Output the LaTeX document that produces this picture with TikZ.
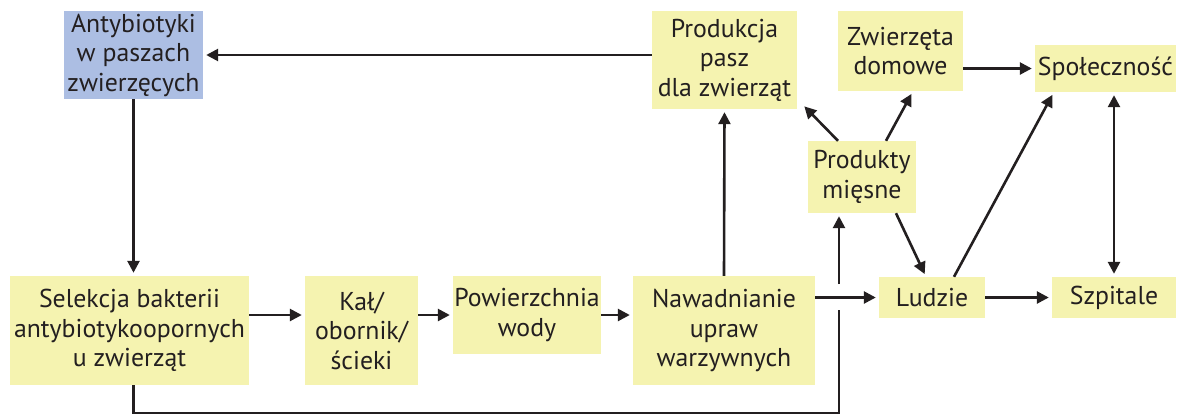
\documentclass[tikz,border=0pt]{standalone}
\usepackage{fontspec}
\setmainfont{PT Sans}
\usetikzlibrary{arrows.meta}
\definecolor{boxyellow}{RGB}{245,243,176}
\definecolor{boxblue}{RGB}{172,190,227}
\definecolor{ink}{RGB}{35,31,32}
\tikzset{
  box/.style={fill=boxyellow, draw=none, text=ink, align=center, inner sep=0pt,
    font=\fontsize{25.8}{29.5}\selectfont},
  bluebox/.style={box, fill=boxblue},
  link/.style={draw=ink, line width=2.6pt},
  flow/.style={link, -{Triangle[length=12pt,width=12pt]}, shorten >=3pt},
  both/.style={link, {Triangle[length=12pt,width=12pt]}-{Triangle[length=12pt,width=12pt]}, shorten >=3pt, shorten <=3pt},
}
\begin{document}
\begin{tikzpicture}[x=1pt,y=-1pt]
\useasboundingbox (0,0) rectangle (1179,416);

% boxes
\node[bluebox, minimum width=139pt, minimum height=88pt] (ab) at (133.5,55) {Antybiotyki\\w paszach\\zwierzęcych};
\node[box, minimum width=145pt, minimum height=98pt] (prod) at (724.5,60) {Produkcja\\pasz\\dla zwierząt};
\node[box, minimum width=125pt, minimum height=80pt] (zw) at (900.5,51) {Zwierzęta\\domowe};
\node[box, minimum width=141pt, minimum height=47pt] (spo) at (1105.5,68.5) {Społeczność};
\node[box, minimum width=108pt, minimum height=72pt] (pm) at (862,177) {Produkty\\mięsne};
\node[box, minimum width=239pt, minimum height=109pt] (sel) at (129.5,330.5) {Selekcja bakterii\\antybiotykoopornych\\u zwierząt};
\node[box, minimum width=113pt, minimum height=109pt] (kal) at (361.5,330.5) {Kał/\\obornik/\\ścieki};
\node[box, minimum width=148pt, minimum height=78pt] (pow) at (527,315) {Powierzchnia\\wody};
\node[box, minimum width=182pt, minimum height=109pt] (naw) at (724,330.5) {Nawadnianie\\upraw\\warzywnych};
\node[box, minimum width=106pt, minimum height=41pt] (lud) at (932,297.5) {Ludzie};
\node[box, minimum width=124pt, minimum height=41pt] (szp) at (1114,297.5) {Szpitale};

% route points of the return line under the lower row
\coordinate (cornerL) at (133.5,413);
\coordinate (cornerR) at (839,413);
\coordinate (gapLow) at (839,310);
\coordinate (gapHigh) at (839,284);

% connectors
\draw[flow] (prod.west |- ab) -- (ab.east);
\draw[flow] (ab.south) -- (ab.south |- sel.north);
\draw[flow] (sel.east |- pow) -- (kal.west |- pow);
\draw[flow] (kal.east |- pow) -- (pow.west);
\draw[flow] (pow.east) -- (naw.west |- pow);
\draw[flow] (naw.north) -- (prod.south);
\draw[flow] (naw.east |- lud) -- (lud.west);
\draw[link] (ab.south |- sel.south) -- (cornerL) -- (cornerR) -- (gapLow);
\draw[flow] (gapHigh) -- (gapHigh |- pm.south);
\draw[flow] ([xshift=-24pt]pm.north) -- ([xshift=5pt,yshift=5pt]prod.south east);
\draw[flow] ([xshift=24pt]pm.north) -- ([xshift=12.5pt]zw.south);
\draw[flow] ([xshift=34pt]pm.south) -- ([xshift=-6pt]lud.north);
\draw[flow] ([xshift=22pt]lud.north) -- ([xshift=19pt]spo.south west);
\draw[both] (szp.north) -- (szp.north |- spo.south);
\draw[flow] (zw.east |- spo.west) -- (spo.west);
\draw[flow] (lud.east) -- (szp.west);
\end{tikzpicture}
\end{document}
